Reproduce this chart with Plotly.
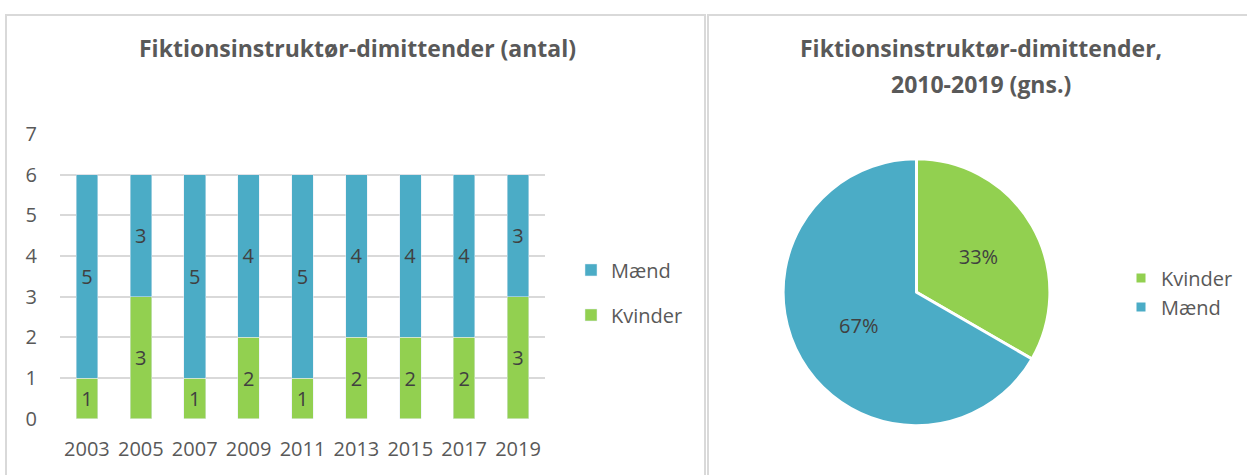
import plotly.graph_objects as go

years = ["2003", "2005", "2007", "2009", "2011", "2013", "2015", "2017", "2019"]
kvinder = [1, 3, 1, 2, 1, 2, 2, 2, 3]
maend = [5, 3, 5, 4, 5, 4, 4, 4, 3]
y_ticks = [0, 1, 2, 3, 4, 5, 6, 7]

pie_labels = ["Kvinder", "Mænd"]
pie_values = [10, 20]

GREEN = "#92D050"
BLUE = "#4BACC6"
W, H = 1247, 475
# the page renders the figure 450 px tall, centred vertically in the window
PLOT_H, TOP = 450.0, 12.5


def px(x):
    return x / W


def py(y):
    return 1 - (y - TOP) / PLOT_H


LBL = dict(size=20, color="#404040", family="Open Sans")

fig = go.Figure()
fig.add_trace(go.Bar(
    x=years, y=kvinder, name="Kvinder", marker_color=GREEN,
    text=kvinder, textposition="inside", insidetextanchor="middle",
    textfont=LBL, constraintext="none", legendgroup="k", legendrank=2,
))
fig.add_trace(go.Bar(
    x=years, y=maend, name="Mænd", marker_color=BLUE,
    text=maend, textposition="inside", insidetextanchor="middle",
    textfont=LBL, constraintext="none", legendgroup="m", legendrank=1,
))
fig.add_trace(go.Pie(
    labels=pie_labels, values=pie_values, sort=False, direction="clockwise",
    rotation=0, marker=dict(colors=[GREEN, BLUE], line=dict(color="white", width=3)),
    textinfo="percent", texttemplate="%{percent:.0%}", textposition="inside",
    insidetextorientation="horizontal",
    textfont=LBL,
    domain=dict(x=[px(783), px(1050)], y=[py(426), py(158)]),
    legend="legend2", hoverinfo="label+percent",
))

fig.update_layout(
    width=W, height=H, autosize=False, margin=dict(l=0, r=0, t=0, b=0),
    paper_bgcolor="white", plot_bgcolor="white",
    barmode="stack", bargap=0.6,
    font=dict(family="Open Sans", color="#595959", size=20),
    xaxis=dict(domain=[px(60), px(545)], type="category", showgrid=False,
               showline=False, ticks="", ticklabelstandoff=16,
               tickfont=dict(size=20, color="#595959")),
    yaxis=dict(domain=[py(419), py(133)], range=[0, 7], tickvals=y_ticks,
               showgrid=True, gridcolor="#D9D9D9", gridwidth=1.5, zeroline=False,
               showline=False, ticks="", ticklabelstandoff=22,
               tickfont=dict(size=20, color="#595959")),
    legend=dict(x=px(571), y=py(250), xanchor="left", yanchor="top",
                traceorder="grouped", tracegroupgap=16,
                font=dict(size=20, color="#595959"), itemwidth=30,
                bgcolor="rgba(0,0,0,0)"),
    legend2=dict(x=px(1121), y=py(258), xanchor="left", yanchor="top",
                 traceorder="normal",
                 font=dict(size=20, color="#595959"), itemwidth=30,
                 bgcolor="rgba(0,0,0,0)"),
    showlegend=True,
)

title_font = dict(family="Open Sans", size=23, color="#595959")
fig.add_annotation(text="<b>Fiktionsinstruktør-dimittender (antal)</b>",
                   x=px(357), y=py(47), xref="paper", yref="paper",
                   showarrow=False, font=title_font, xanchor="center", yanchor="middle")
fig.add_annotation(text="<b>Fiktionsinstruktør-dimittender,</b>",
                   x=px(981), y=py(47), xref="paper", yref="paper",
                   showarrow=False, font=title_font, xanchor="center", yanchor="middle")
fig.add_annotation(text="<b>2010-2019 (gns.)</b>",
                   x=px(981), y=py(82.5), xref="paper", yref="paper",
                   showarrow=False, font=title_font, xanchor="center", yanchor="middle")

border = dict(color="#D9D9D9", width=2)
fig.add_shape(type="rect", xref="paper", yref="paper",
              x0=px(6), x1=px(705), y0=py(490), y1=py(13.5), line=border)
fig.add_shape(type="rect", xref="paper", yref="paper",
              x0=px(708), x1=px(1252), y0=py(490), y1=py(13.5), line=border)

fig.write_html(
    "out.html",
    config={"displayModeBar": False, "responsive": False},
    post_script="document.body.style.margin='0';document.body.style.overflow='hidden';",
)
